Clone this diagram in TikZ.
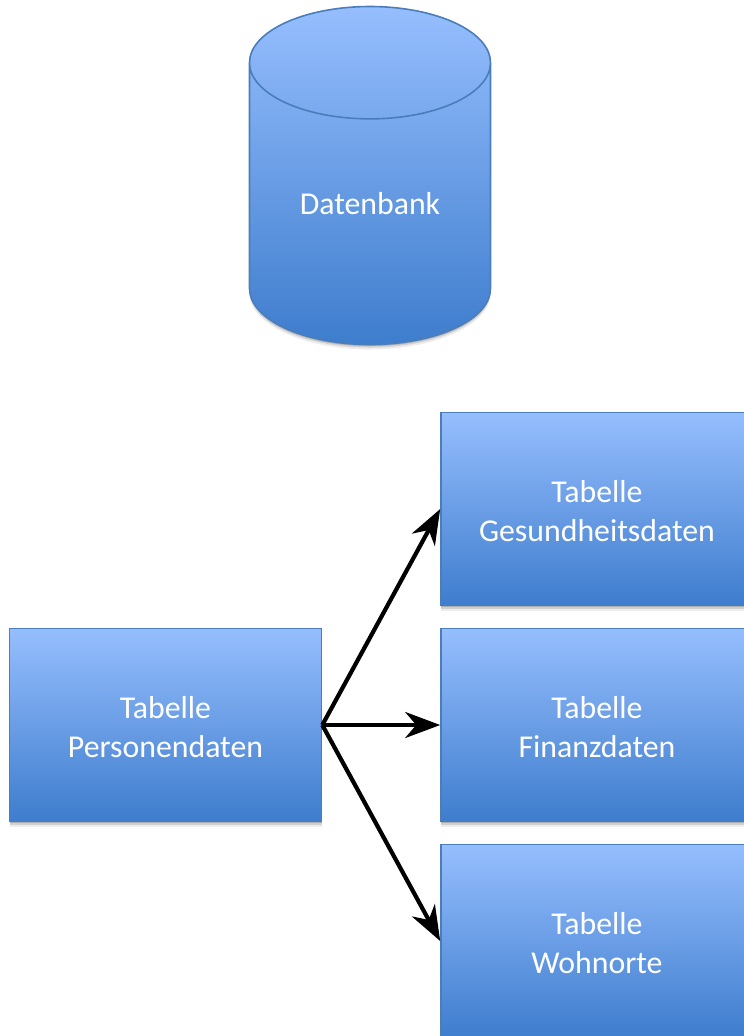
\documentclass[tikz,border=0pt]{standalone}
\usepackage{fontspec}
\setmainfont{Carlito}
\usetikzlibrary{shapes.geometric, arrows.meta, shadows}
\definecolor{fillTop}{HTML}{96BEFE}
\definecolor{fillBottom}{HTML}{3E7DCD}
\definecolor{borderBlue}{HTML}{4A7EBB}
\newcommand{\firstLine}[1]{\rule{0pt}{27pt}#1}
\tikzstyle{softShadow} = [drop shadow={shadow xshift=0pt, shadow yshift=-1.5pt, opacity=.16, fill=black},
                          drop shadow={shadow xshift=0pt, shadow yshift=-3pt, opacity=.12, fill=black},
                          drop shadow={shadow xshift=0pt, shadow yshift=-5pt, opacity=.07, fill=black}]
\tikzstyle{tableBox}   = [rectangle,
                          minimum width=312pt,
                          minimum height=193pt,
                          inner sep=0pt,
                          text centered,
                          align=center,
                          text=white,
                          font=\fontsize{31.8}{39}\selectfont,
                          draw=borderBlue,
                          line width=1.6pt,
                          top color=fillTop,
                          bottom color=fillBottom,
                          softShadow]
\tikzstyle{dbCylinder} = [cylinder,
                          shape border rotate=90,
                          aspect=0.80,
                          minimum width=241pt,
                          minimum height=338pt,
                          inner sep=0pt,
                          text=white,
                          font=\fontsize{31.8}{39}\selectfont,
                          draw=borderBlue,
                          line width=1.6pt,
                          top color=fillTop,
                          bottom color=fillBottom,
                          softShadow]
\tikzstyle{arrow}      = [line width=4.2pt, -{Stealth[length=35pt, width=26pt, inset=11pt]}]

\begin{document}
\begin{tikzpicture}[x=1pt, y=-1pt]
\clip (0,0) rectangle (744,1036);
\fill [white] (0,0) rectangle (744,1036);

\node [dbCylinder] (Datenbank) at (370,204) {Datenbank};

\node [tableBox] (Personen)    at (165.5,725) {\firstLine{Tabelle}\\Personendaten};
\node [tableBox] (Gesundheit)  at (597,509)   {\firstLine{Tabelle}\\Gesundheitsdaten};
\node [tableBox] (Finanz)      at (597,725)   {\firstLine{Tabelle}\\Finanzdaten};
\node [tableBox] (Wohnorte)    at (597,941)   {\firstLine{Tabelle}\\Wohnorte};

\draw [arrow] (Personen.east) -- (Gesundheit.west);
\draw [arrow] (Personen.east) -- (Finanz.west);
\draw [arrow] (Personen.east) -- (Wohnorte.west);

\end{tikzpicture}
\end{document}
